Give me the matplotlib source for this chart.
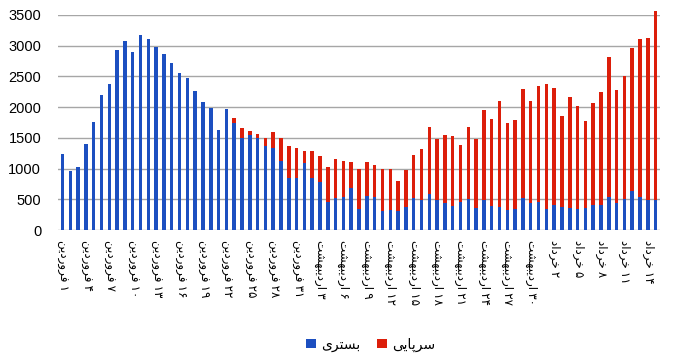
import matplotlib
matplotlib.use('Agg')
import matplotlib.pyplot as plt
import numpy as np

plt.rcParams['font.family'] = ['Liberation Sans', 'DejaVu Sans']

# tick labels (every 3rd day), 1 Farvardin .. 14 Khordad
tick_labels = ['1 فروردین', '4 فروردین', '7 فروردین', '10 فروردین', '13 فروردین',
               '16 فروردین', '19 فروردین', '22 فروردین', '25 فروردین', '28 فروردین',
               '31 فروردین', '3 اردیبهشت', '6 اردیبهشت', '9 اردیبهشت', '12 اردیبهشت',
               '15 اردیبهشت', '18 اردیبهشت', '21 اردیبهشت', '24 اردیبهشت', '27 اردیبهشت',
               '30 اردیبهشت', '2 خرداد', '5 خرداد', '8 خرداد', '11 خرداد', '14 خرداد']

# بستری (inpatient)
inpatient = [1230, 960, 1020, 1400, 1755, 2200, 2380, 2925, 3070, 2895,
             3180, 3105, 2985, 2865, 2715, 2555, 2475, 2265, 2080, 1990,
             1635, 1975, 1740, 1495, 1540, 1500, 1365, 1335, 1120, 840,
             845, 1085, 845, 785, 450, 525, 540, 685, 335, 555,
             540, 315, 320, 305, 375, 520, 490, 585, 495, 445,
             390, 455, 505, 365, 490, 395, 375, 330, 335, 520,
             440, 455, 345, 405, 375, 360, 335, 360, 405, 410,
             535, 440, 505, 640, 535, 495, 495]
# bar totals (inpatient + outpatient)
total = [1230, 960, 1020, 1400, 1755, 2200, 2380, 2925, 3070, 2895,
         3180, 3105, 2985, 2865, 2715, 2555, 2475, 2265, 2080, 1990,
         1635, 1975, 1830, 1655, 1612, 1568, 1503, 1600, 1493, 1367,
         1335, 1281, 1291, 1200, 1031, 1161, 1128, 1107, 993, 1107,
         1063, 988, 998, 798, 977, 1221, 1319, 1682, 1477, 1552,
         1525, 1379, 1677, 1481, 1953, 1807, 2100, 1747, 1796, 2290,
         2105, 2339, 2377, 2307, 1861, 2170, 2014, 1780, 2068, 2252,
         2812, 2274, 2502, 2963, 3105, 3121, 3560]
outpatient = [t - i for t, i in zip(total, inpatient)]

legend_names = ['بستری', 'سرپایی']

# --- simple arabic shaping (matplotlib has no complex text layout) ---
FORMS = {
    'ا': ('\uFE8D', '\uFE8E', None, None),
    'ب': ('\uFE8F', '\uFE90', '\uFE91', '\uFE92'),
    'پ': ('\uFB56', '\uFB57', '\uFB58', '\uFB59'),
    'ت': ('\uFE95', '\uFE96', '\uFE97', '\uFE98'),
    'خ': ('\uFEA5', '\uFEA6', '\uFEA7', '\uFEA8'),
    'د': ('\uFEA9', '\uFEAA', None, None),
    'ر': ('\uFEAD', '\uFEAE', None, None),
    'س': ('\uFEB1', '\uFEB2', '\uFEB3', '\uFEB4'),
    'ش': ('\uFEB5', '\uFEB6', '\uFEB7', '\uFEB8'),
    'ف': ('\uFED1', '\uFED2', '\uFED3', '\uFED4'),
    'ن': ('\uFEE5', '\uFEE6', '\uFEE7', '\uFEE8'),
    'ه': ('\uFEE9', '\uFEEA', '\uFEEB', '\uFEEC'),
    'و': ('\uFEED', '\uFEEE', None, None),
    '\u06CC': ('\uFBFC', '\uFBFD', '\uFBFE', '\uFBFF'),
}


def shape(word):
    word = word.replace('\u064A', '\u06CC')
    out = ''
    for k, ch in enumerate(word):
        if ch not in FORMS:
            out += ch
            continue
        prev = word[k - 1] if k > 0 else None
        nxt = word[k + 1] if k < len(word) - 1 else None
        c_prev = prev in FORMS and FORMS[prev][2] is not None
        c_next = nxt in FORMS and FORMS[ch][2] is not None
        if c_prev and c_next:
            out += FORMS[ch][3]
        elif c_prev:
            out += FORMS[ch][1]
        elif c_next:
            out += FORMS[ch][2]
        else:
            out += FORMS[ch][0]
    return out[::-1]


fa_digits = str.maketrans('0123456789', '۰۱۲۳۴۵۶۷۸۹')


def date_label(s):
    day, month = s.split(' ')
    return shape(month) + ' ' + day.translate(fa_digits)


x = np.arange(len(inpatient))
blue = '#1c4fc0'
red = '#dc1e0a'

fig = plt.figure(figsize=(6.8, 3.64), dpi=100)
ax = fig.add_axes([0.085, 0.368, 0.886, 0.591])

ax.bar(x, inpatient, width=0.45, color=blue, label=shape(legend_names[0]), zorder=3, clip_on=False)
ax.bar(x, outpatient, width=0.45, bottom=inpatient, color=red, label=shape(legend_names[1]),
       zorder=3, clip_on=False)

ax.set_ylim(0, 3500)
ax.set_xlim(-0.6, len(x) - 0.4)
ax.set_yticks(np.arange(0, 3501, 500))
ax.yaxis.grid(True, color='#a6a6a6', lw=1)
ax.set_axisbelow(True)
for s in ax.spines.values():
    s.set_visible(False)
ax.tick_params(axis='y', length=0, labelsize=10.5, pad=12)
ax.tick_params(axis='x', length=0, pad=7)
ax.set_xticks(x[::3])
ax.set_xticklabels([date_label(s) for s in tick_labels], rotation=270, fontsize=8.6)

leg = fig.legend(loc='lower center', bbox_to_anchor=(0.545, 0.0), ncol=2, frameon=False,
                 fontsize=10, handlelength=0.7, handleheight=0.7, columnspacing=1.2,
                 handletextpad=0.4)

plt.savefig('out.png', dpi=100)
